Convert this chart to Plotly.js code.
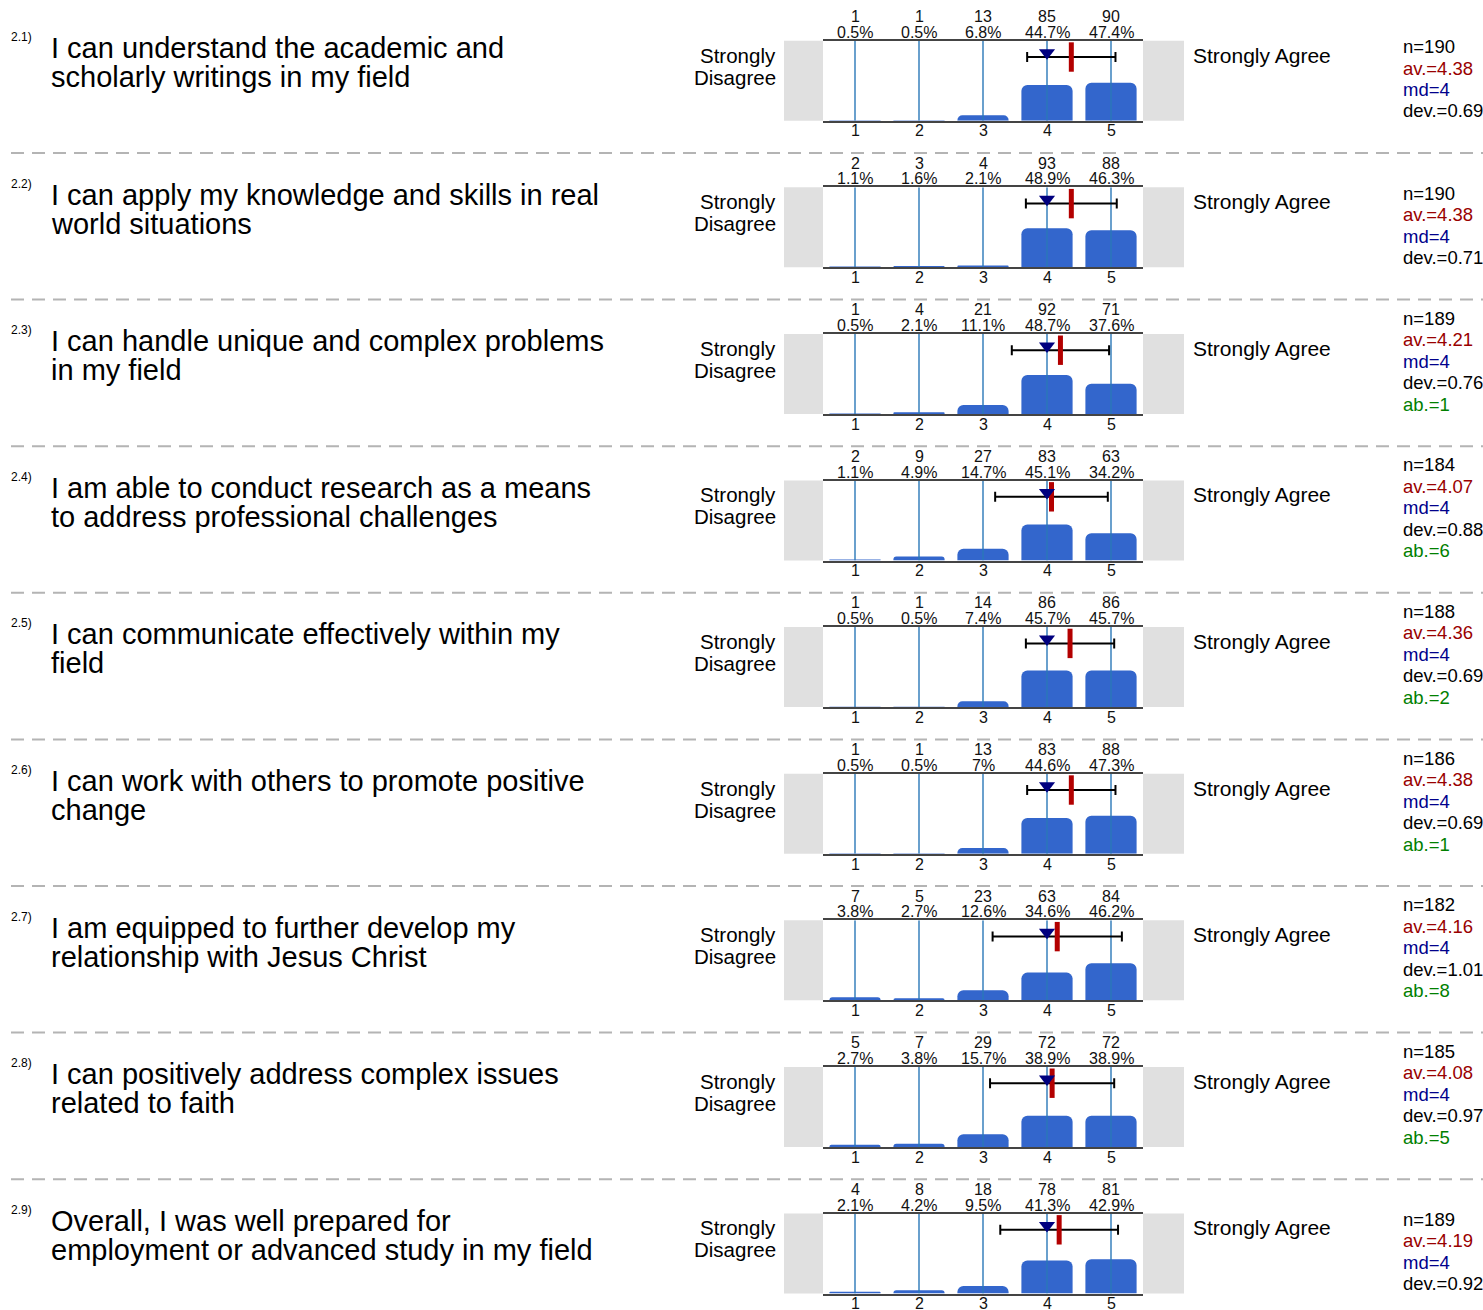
<!DOCTYPE html>
<html>
<head>
<meta charset="utf-8">
<script src="https://cdn.plot.ly/plotly-3.0.1.min.js"></script>
<style>html,body{margin:0;padding:0;background:#fff;}#chart{width:1483px;height:1310px;}</style>
</head>
<body>
<div id="chart"></div>
<script>
const categories = [1, 2, 3, 4, 5];
const codes = ['2.1)', '2.2)', '2.3)', '2.4)', '2.5)', '2.6)', '2.7)', '2.8)', '2.9)'];
const qLine1 = [
  'I can understand the academic and',
  'I can apply my knowledge and skills in real',
  'I can handle unique and complex problems',
  'I am able to conduct research as a means',
  'I can communicate effectively within my',
  'I can work with others to promote positive',
  'I am equipped to further develop my',
  'I can positively address complex issues',
  'Overall, I was well prepared for'
];
const qLine2 = [
  'scholarly writings in my field',
  'world situations',
  'in my field',
  'to address professional challenges',
  'field',
  'change',
  'relationship with Jesus Christ',
  'related to faith',
  'employment or advanced study in my field'
];
const counts = [
  [1, 1, 13, 85, 90],
  [2, 3, 4, 93, 88],
  [1, 4, 21, 92, 71],
  [2, 9, 27, 83, 63],
  [1, 1, 14, 86, 86],
  [1, 1, 13, 83, 88],
  [7, 5, 23, 63, 84],
  [5, 7, 29, 72, 72],
  [4, 8, 18, 78, 81]
];
const pcts = [
  [0.5, 0.5, 6.8, 44.7, 47.4],
  [1.1, 1.6, 2.1, 48.9, 46.3],
  [0.5, 2.1, 11.1, 48.7, 37.6],
  [1.1, 4.9, 14.7, 45.1, 34.2],
  [0.5, 0.5, 7.4, 45.7, 45.7],
  [0.5, 0.5, 7, 44.6, 47.3],
  [3.8, 2.7, 12.6, 34.6, 46.2],
  [2.7, 3.8, 15.7, 38.9, 38.9],
  [2.1, 4.2, 9.5, 41.3, 42.9]
];
const nVals = [190, 190, 189, 184, 188, 186, 182, 185, 189];
const avVals = [4.38, 4.38, 4.21, 4.07, 4.36, 4.38, 4.16, 4.08, 4.19];
const mdVals = [4, 4, 4, 4, 4, 4, 4, 4, 4];
const devVals = [0.69, 0.71, 0.76, 0.88, 0.69, 0.69, 1.01, 0.97, 0.92];
const abVals = [null, null, 1, 6, 2, 1, 8, 5, null];
const leftLabel = ['Strongly', 'Disagree'];
const rightLabel = 'Strongly Agree';

const W = 1483, H = 1310;
const FONT = 'Liberation Sans, Arial, Helvetica, sans-serif';
const ROW = 146.6, TOP0 = 40.7, PH = 80;
const PX0 = 823, PX1 = 1143;
const px = x => x / W;
const py = y => 1 - y / H;

const data = [];
const layout = {
  width: W, height: H,
  margin: {l: 0, r: 0, t: 0, b: 0},
  paper_bgcolor: '#fff', plot_bgcolor: '#fff',
  showlegend: false,
  font: {family: FONT, color: '#000'},
  annotations: [], shapes: []
};

function ann(text, x, y, size, color, xanchor, extra) {
  return Object.assign({
    text: text, x: x, y: y, xref: 'paper', yref: 'paper',
    xanchor: xanchor || 'left', yanchor: 'middle', showarrow: false,
    font: {family: FONT, size: size, color: color || '#000'}
  }, extra || {});
}

for (let i = 0; i < codes.length; i++) {
  const k = i + 1;
  const xa = 'x' + k, ya = 'y' + k;
  const off = ROW * i;
  const top = TOP0 + off, bot = top + PH;

  layout['xaxis' + k] = {
    domain: [px(PX0), px(PX1)], range: [0.5, 5.5], anchor: ya,
    tickvals: categories, showticklabels: false,
    ticks: '', showgrid: false, zeroline: false,
    showline: true, mirror: true, linecolor: '#444', linewidth: 2,
    fixedrange: true
  };
  layout['yaxis' + k] = {
    domain: [py(bot), py(top)], range: [0, 100], anchor: xa,
    showgrid: false, zeroline: false, showticklabels: false, showline: false,
    fixedrange: true
  };

  // bars
  data.push({
    type: 'bar', x: categories, y: pcts[i], xaxis: xa, yaxis: ya,
    width: 0.8, marker: {color: '#3366cc', cornerradius: 6, line: {width: 0}},
    hoverinfo: 'skip'
  });
  // vertical category lines
  const lx = [], ly = [];
  categories.forEach(c => { lx.push(c, c, null); ly.push(0, 100, null); });
  data.push({
    type: 'scatter', mode: 'lines', x: lx, y: ly, xaxis: xa, yaxis: ya,
    line: {color: '#2a78b8', width: 1.4}, hoverinfo: 'skip'
  });
  // mean +/- dev
  data.push({
    type: 'scatter', mode: 'markers', x: [avVals[i]], y: [79.6], xaxis: xa, yaxis: ya,
    error_x: {type: 'data', array: [devVals[i]], symmetric: true, color: '#000', thickness: 2, width: 5},
    marker: {symbol: 'line-ns', size: 21, line: {width: 5, color: '#b30000'}},
    cliponaxis: false, hoverinfo: 'skip'
  });
  // median
  data.push({
    type: 'scatter', mode: 'markers', x: [mdVals[i]], y: [85], xaxis: xa, yaxis: ya,
    marker: {symbol: 'triangle-down', size: 14, color: '#00007f'},
    cliponaxis: false, hoverinfo: 'skip'
  });

  // count / pct labels and tick labels
  categories.forEach((c, j) => {
    layout.annotations.push({
      text: String(counts[i][j]), x: c, xref: xa, y: py(16.5 + off), yref: 'paper',
      xanchor: 'center', yanchor: 'middle', showarrow: false,
      font: {family: FONT, size: 16, color: '#111'}
    });
    layout.annotations.push({
      text: String(pcts[i][j]) + '%', x: c, xref: xa, y: py(32.3 + off), yref: 'paper',
      xanchor: 'center', yanchor: 'middle', showarrow: false,
      font: {family: FONT, size: 16, color: '#111'}
    });
    layout.annotations.push({
      text: String(c), x: c, xref: xa, y: py(131 + off), yref: 'paper',
      xanchor: 'center', yanchor: 'middle', showarrow: false,
      font: {family: FONT, size: 16, color: '#111'}
    });
  });

  // question text
  layout.annotations.push(ann(codes[i], px(9), py(37 + off), 12, '#000'));
  layout.annotations.push(ann(qLine1[i], px(49), py(48 + off), 29, '#000'));
  layout.annotations.push(ann(qLine2[i], px(49), py(77 + off), 29, '#000'));
  // scale labels
  layout.annotations.push(ann(leftLabel[0], px(778), py(55 + off), 20.5, '#000', 'right'));
  layout.annotations.push(ann(leftLabel[1], px(778), py(77 + off), 20.5, '#000', 'right'));
  layout.annotations.push(ann(rightLabel, px(1191), py(55 + off), 21, '#000'));

  // stats
  const stats = [
    ['n=' + nVals[i], '#000'],
    ['av.=' + avVals[i].toFixed(2), '#990000'],
    ['md=' + mdVals[i], '#00008b'],
    ['dev.=' + devVals[i].toFixed(2), '#000']
  ];
  if (abVals[i] !== null) stats.push(['ab.=' + abVals[i], '#008000']);
  const lastY = 111 + off, sp = 21.5;
  stats.forEach((s, j) => {
    const yy = lastY - (stats.length - 1 - j) * sp;
    layout.annotations.push(ann(s[0], px(1401), py(yy), 18.5, s[1]));
  });

  // gray end boxes
  layout.shapes.push({type: 'rect', xref: 'paper', yref: 'paper', x0: px(784), x1: px(PX0), y0: py(bot), y1: py(top),
    fillcolor: '#e0e0e0', line: {width: 0}, layer: 'below'});
  layout.shapes.push({type: 'rect', xref: 'paper', yref: 'paper', x0: px(PX1), x1: px(1184), y0: py(bot), y1: py(top),
    fillcolor: '#e0e0e0', line: {width: 0}, layer: 'below'});

  // separator
  if (i < codes.length - 1) {
    const sy = 153 + off;
    layout.shapes.push({type: 'line', xref: 'paper', yref: 'paper', x0: px(11), x1: 1, y0: py(sy), y1: py(sy),
      line: {color: '#b4b4b4', width: 2, dash: '13px,8px'}});
  }
}

Plotly.newPlot('chart', data, layout, {staticPlot: true, displayModeBar: false});
</script>
</body>
</html>
